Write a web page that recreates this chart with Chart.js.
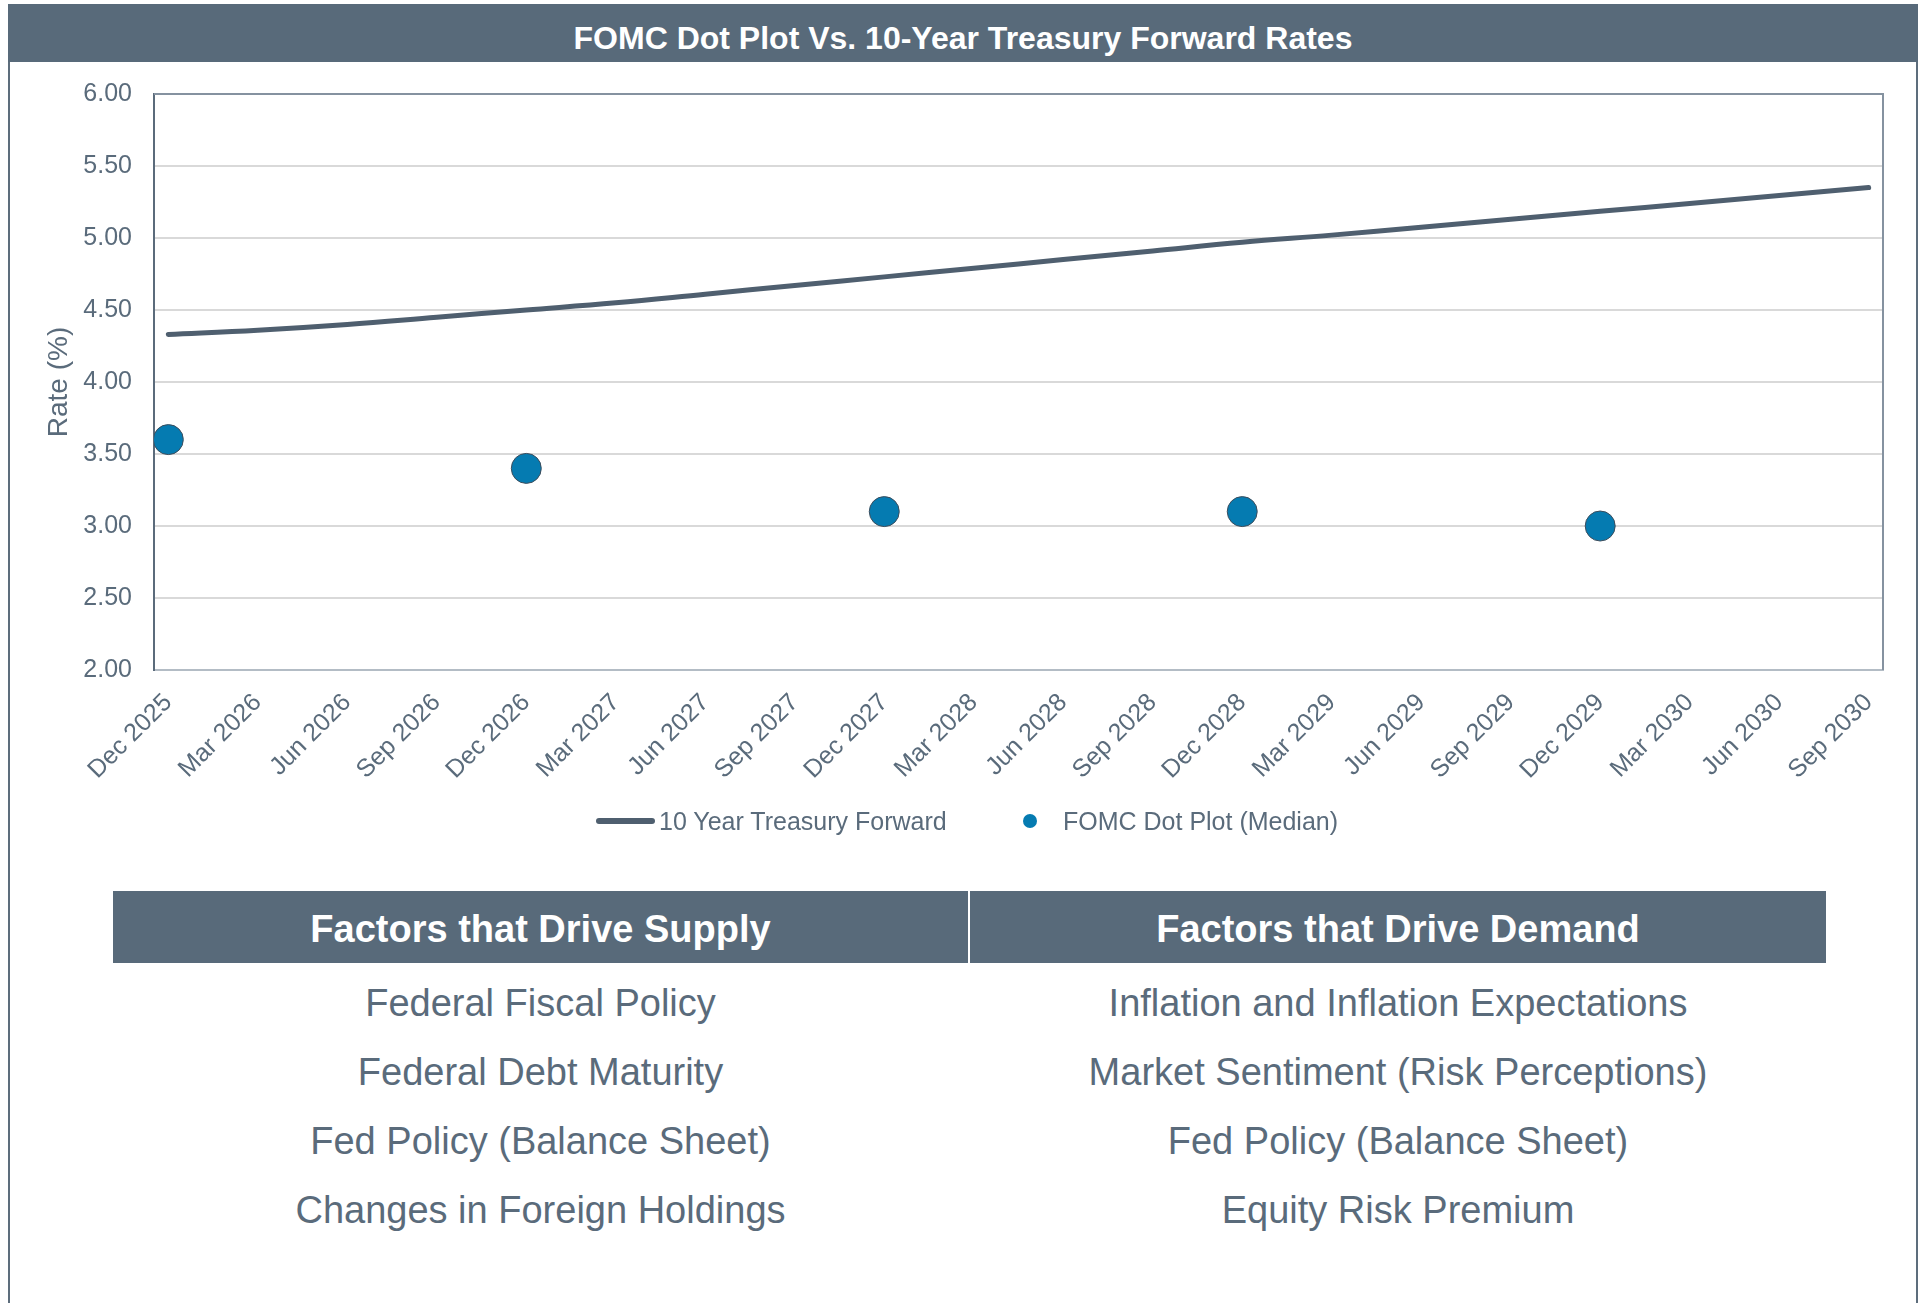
<!DOCTYPE html>
<html>
<head>
<meta charset="utf-8">
<script src="https://cdn.jsdelivr.net/npm/chart.js@4.4.1/dist/chart.umd.min.js"></script>
<style>
  body { margin: 0; background: #fff; font-family: "Liberation Sans", Arial, sans-serif; }
  #page { position: relative; width: 1921px; height: 1303px; overflow: hidden; }
  #frame { position: absolute; left: 8px; top: 4px; width: 1906px; height: 1320px;
           border-left: 2px solid #5d6d7c; border-right: 2px solid #5d6d7c; }
  #header { position: absolute; left: 8px; top: 4px; width: 1910px; height: 58px; background: #586a7a;
            color: #fff; font-weight: bold; font-size: 32px; text-align: center; line-height: 69px;
            overflow: hidden; }
  #chartBox { position: absolute; left: 0; top: 57px; width: 1921px; height: 765px; }
  .leg { position: absolute; color: #5a6b7b; font-size: 25px; line-height: 28px; }
  .th { position: absolute; top: 891px; height: 72px; background: #586a7a; color: #fff;
        font-weight: bold; font-size: 38px; line-height: 77px; text-align: center; }
  .td { position: absolute; color: #5a6b7b; font-size: 38px; text-align: center; line-height: 45px; }
</style>
</head>
<body>
<div id="page">
  <div id="frame"></div>
  <div id="header">FOMC Dot Plot Vs. 10-Year Treasury Forward Rates</div>
  <div id="chartBox"><canvas id="rateChart" width="1921" height="765"></canvas></div>
  <div id="legend"></div>
  <div id="table"></div>
</div>
<script>
// quarter labels on the x axis
const quarters = ['Dec 2025', 'Mar 2026', 'Jun 2026', 'Sep 2026', 'Dec 2026', 'Mar 2027', 'Jun 2027',
  'Sep 2027', 'Dec 2027', 'Mar 2028', 'Jun 2028', 'Sep 2028', 'Dec 2028', 'Mar 2029', 'Jun 2029',
  'Sep 2029', 'Dec 2029', 'Mar 2030', 'Jun 2030', 'Sep 2030'];

// 10 year treasury forward (%) per quarter
const treasuryForward = [4.33, 4.36, 4.40, 4.45, 4.50, 4.55, 4.61, 4.67, 4.73, 4.79, 4.85,
  4.91, 4.97, 5.02, 5.075, 5.13, 5.185, 5.24, 5.295, 5.35];

// FOMC median dots (only at year ends)
const fomcMedian = [3.6, null, null, null, 3.4, null, null, null, 3.1, null, null, null, 3.1,
  null, null, null, 3.0, null, null, null];

const yTicks = [2.0, 2.5, 3.0, 3.5, 4.0, 4.5, 5.0, 5.5, 6.0];

const seriesNames = ['10 Year Treasury Forward', 'FOMC Dot Plot (Median)'];
const supplyFactors = ['Federal Fiscal Policy', 'Federal Debt Maturity', 'Fed Policy (Balance Sheet)',
  'Changes in Foreign Holdings'];
const demandFactors = ['Inflation and Inflation Expectations', 'Market Sentiment (Risk Perceptions)',
  'Fed Policy (Balance Sheet)', 'Equity Risk Premium'];

const lineColor = '#4f5f6f';
const dotColor = '#057bb1';
const textColor = '#5a6b7b';

// top + right border of the plot area
const plotBorder = {
  id: 'plotBorder',
  afterDraw(chart) {
    const { ctx, chartArea: a } = chart;
    ctx.save();
    ctx.strokeStyle = '#8592a0';
    ctx.lineWidth = 2;
    ctx.beginPath();
    ctx.moveTo(a.left, a.top);
    ctx.lineTo(a.right, a.top);
    ctx.lineTo(a.right, a.bottom);
    ctx.stroke();
    ctx.restore();
  }
};

const ctx = document.getElementById('rateChart').getContext('2d');
new Chart(ctx, {
  type: 'line',
  data: {
    datasets: [{
      label: seriesNames[0],
      data: treasuryForward.map((v, i) => ({ x: i, y: v })),
      borderColor: lineColor,
      borderWidth: 5,
      borderCapStyle: 'round',
      pointRadius: 0,
      tension: 0.4,
      fill: false
    }, {
      label: seriesNames[1],
      data: fomcMedian.map((v, i) => ({ x: i, y: v })).filter(p => p.y !== null),
      showLine: false,
      pointRadius: 15,
      pointBackgroundColor: dotColor,
      pointBorderColor: '#3d4d5c',
      pointBorderWidth: 1
    }]
  },
  options: {
    responsive: false,
    animation: false,
    devicePixelRatio: 1,
    layout: { padding: { left: 0, right: 38, top: 0, bottom: 0 } },
    plugins: { legend: { display: false }, tooltip: { enabled: false } },
    scales: {
      x: {
        type: 'linear',
        min: -0.16,
        max: 19.16,
        afterBuildTicks: s => { s.ticks = quarters.map((q, i) => ({ value: i })); },
        afterFit: s => { s.height = 152; },
        grid: { display: false },
        border: { color: '#b3bcc5', width: 2 },
        ticks: {
          autoSkip: false,
          minRotation: 45,
          maxRotation: 45,
          padding: 10,
          color: textColor,
          font: { family: '"Liberation Sans", Arial', size: 25 },
          callback: v => quarters[v]
        }
      },
      y: {
        min: 2,
        max: 6,
        afterBuildTicks: s => { s.ticks = yTicks.map(v => ({ value: v })); },
        afterFit: s => { s.width = 154; },
        grid: { color: '#d9d9d9', lineWidth: 2, drawTicks: false },
        border: { color: '#5b6b7b', width: 2 },
        ticks: {
          padding: 22,
          color: textColor,
          font: { family: '"Liberation Sans", Arial', size: 25 },
          callback: v => v.toFixed(2)
        },
        title: {
          display: true,
          text: 'Rate (%)',
          color: textColor,
          padding: { top: 42, bottom: 0 },
          font: { family: '"Liberation Sans", Arial', size: 28, lineHeight: 1.2 }
        }
      }
    }
  },
  plugins: [plotBorder]
});

// legend
const legend = document.getElementById('legend');
legend.innerHTML = `
  <div style="position:absolute;left:596px;top:818px;width:59px;height:6px;border-radius:3px;background:${lineColor}"></div>
  <div class="leg" style="left:659px;top:807px">${seriesNames[0]}</div>
  <div style="position:absolute;left:1023px;top:814px;width:14px;height:14px;border-radius:50%;background:${dotColor}"></div>
  <div class="leg" style="left:1063px;top:807px">${seriesNames[1]}</div>`;

// factors table
const table = document.getElementById('table');
const rowY = [1003, 1072, 1141, 1210];
let html = `<div class="th" style="left:113px;width:855px">Factors that Drive Supply</div>
  <div class="th" style="left:970px;width:856px">Factors that Drive Demand</div>`;
supplyFactors.forEach((t, i) => {
  html += `<div class="td" style="left:113px;width:855px;top:${rowY[i] - 22}px">${t}</div>`;
});
demandFactors.forEach((t, i) => {
  html += `<div class="td" style="left:970px;width:856px;top:${rowY[i] - 22}px">${t}</div>`;
});
table.innerHTML = html;
</script>
</body>
</html>
